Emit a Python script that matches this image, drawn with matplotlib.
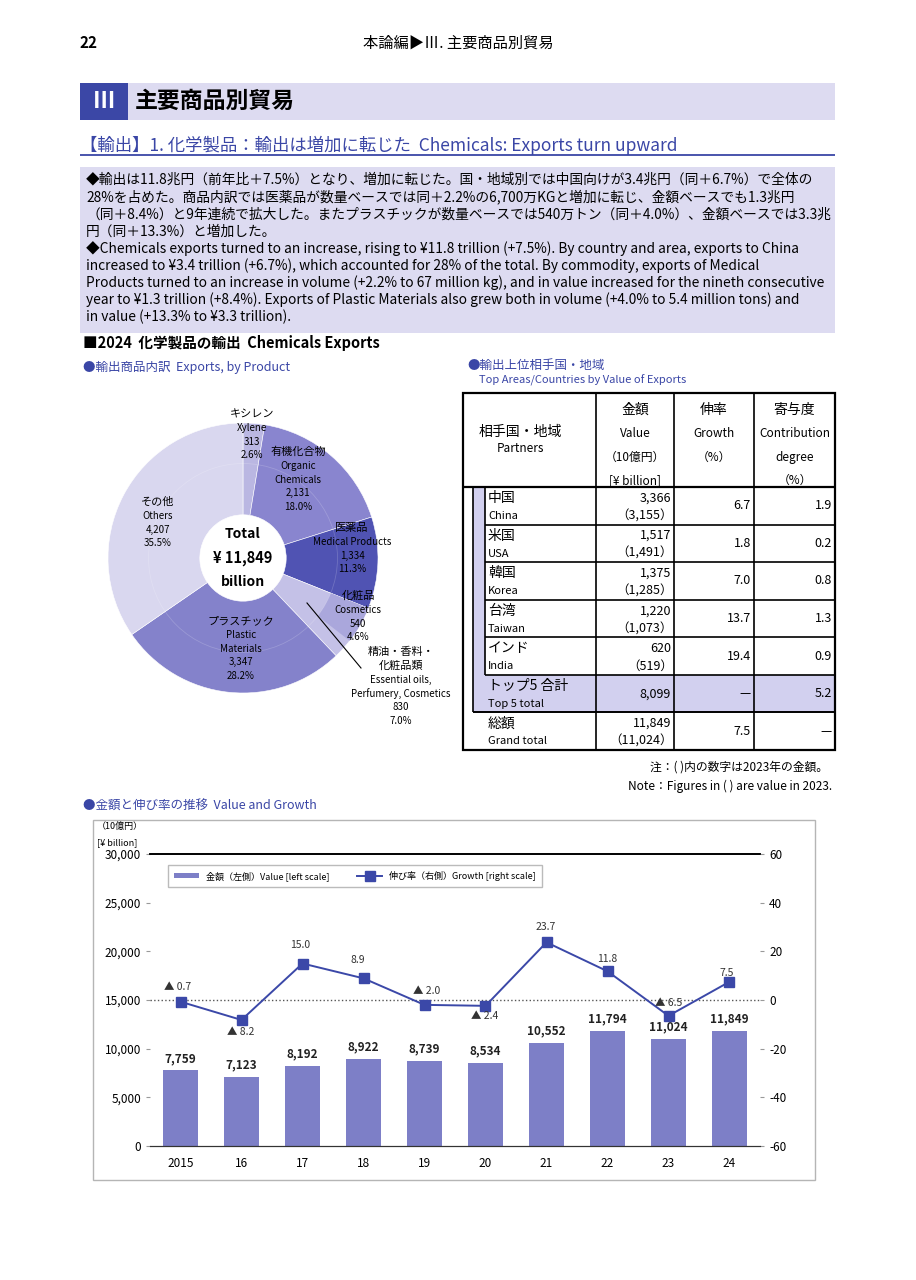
import numpy as np
import matplotlib.pyplot as plt
from matplotlib.patches import Rectangle, Wedge, Circle

plt.rcParams['font.family'] = ['Noto Sans CJK JP', 'DejaVu Sans']
plt.rcParams['axes.unicode_minus'] = False

W, H = 916, 1280
BLUE = '#3a46a6'
LAV = '#dddbf1'

# ---- data: export breakdown by product (10 billion yen) ----
prod_jp = ['キシレン', '有機化合物', '医薬品', '精油・香料・\n化粧品類', 'プラスチック', 'その他']
prod_en = ['Xylene', 'Organic\nChemicals', 'Medical Products', 'Essential oils,\nPerfumery, Cosmetics',
           'Plastic\nMaterials', 'Others']
prod_val = [313, 2131, 1334, 830, 3347, 4207]
prod_pct = [2.6, 18.0, 11.3, 7.0, 28.2, 35.5]
cosm_jp, cosm_en, cosm_val, cosm_pct = '化粧品', 'Cosmetics', 540, 4.6
total_val = 11849

# ---- data: top partners ----
partners_jp = ['中国', '米国', '韓国', '台湾', 'インド']
partners_en = ['China', 'USA', 'Korea', 'Taiwan', 'India']
value_2024 = [3366, 1517, 1375, 1220, 620]
value_2023 = [3155, 1491, 1285, 1073, 519]
growth_pct = [6.7, 1.8, 7.0, 13.7, 19.4]
contrib_pct = [1.9, 0.2, 0.8, 1.3, 0.9]
top5_total, top5_contrib = 8099, 5.2
grand_total, grand_prev, grand_growth = 11849, 11024, 7.5

# ---- data: value and growth ----
years = ['2015', '16', '17', '18', '19', '20', '21', '22', '23', '24']
values = [7759, 7123, 8192, 8922, 8739, 8534, 10552, 11794, 11024, 11849]
growth = [-0.7, -8.2, 15.0, 8.9, -2.0, -2.4, 23.7, 11.8, -6.5, 7.5]

jp_body = ['◆輸出は11.8兆円（前年比＋7.5%）となり、増加に転じた。国・地域別では中国向けが3.4兆円（同＋6.7%）で全体の',
           '28%を占めた。商品内訳では医薬品が数量ベースでは同＋2.2%の6,700万KGと増加に転じ、金額ベースでも1.3兆円',
           '（同＋8.4%）と9年連続で拡大した。またプラスチックが数量ベースでは540万トン（同＋4.0%）、金額ベースでは3.3兆',
           '円（同＋13.3%）と増加した。']
en_body = ['◆Chemicals exports turned to an increase, rising to ¥11.8 trillion (+7.5%). By country and area, exports to China',
           'increased to ¥3.4 trillion (+6.7%), which accounted for 28% of the total. By commodity, exports of Medical',
           'Products turned to an increase in volume (+2.2% to 67 million kg), and in value increased for the nineth consecutive',
           'year to ¥1.3 trillion (+8.4%). Exports of Plastic Materials also grew both in volume (+4.0% to 5.4 million tons) and',
           'in value (+13.3% to ¥3.3 trillion).']

fig = plt.figure(figsize=(W / 100, H / 100), dpi=100)
bg = fig.add_axes([0, 0, 1, 1])
bg.set_xlim(0, W)
bg.set_ylim(H, 0)
bg.axis('off')


def txt(x, y, s, size=9, ha='left', color='black', weight='normal', ax=None, **kw):
    ax = ax or bg
    return ax.text(x, y, s, fontsize=size, ha=ha, va='center', color=color, fontweight=weight, **kw)


def hline(x0, x1, y, lw=1.2, color='black'):
    bg.plot([x0, x1], [y, y], color=color, lw=lw, solid_capstyle='butt')


def vline(x, y0, y1, lw=1.2, color='black'):
    bg.plot([x, x], [y0, y1], color=color, lw=lw, solid_capstyle='butt')


# ---- page header ----
txt(80, 43, '22', 11, weight='bold')
txt(458, 43, '本論編▶Ⅲ. 主要商品別貿易', 11, ha='center')
bg.add_patch(Rectangle((80, 83), 755, 37, color=LAV, lw=0))
bg.add_patch(Rectangle((80, 83), 48, 37, color='#3b47a6', lw=0))
txt(104, 101, 'Ⅲ', 16, ha='center', color='white', weight='bold')
txt(135, 101, '主要商品別貿易', 16.5, weight='bold')
txt(80, 145, '【輸出】1. 化学製品：輸出は増加に転じた  Chemicals: Exports turn upward', 12.5, color=BLUE)
hline(80, 835, 155, lw=1.3, color=BLUE)

# ---- summary text ----
bg.add_patch(Rectangle((80, 167), 755, 166, color=LAV, lw=0))
for i, line in enumerate(jp_body):
    txt(86, 180 + i * 17.3, line, 9.9)
for i, line in enumerate(en_body):
    txt(86, 249 + i * 17, line, 9.9)

# ---- pie section ----
txt(83, 343, '■2024  化学製品の輸出  Chemicals Exports', 10.5, weight='bold')
txt(83, 367, '●輸出商品内訳  Exports, by Product', 9, color=BLUE)

cx, cy, R = 243, 558, 135
ax_pie = fig.add_axes([(cx - R) / W, (H - cy - R) / H, 2 * R / W, 2 * R / H])
pie_colors = ['#bab7e2', '#8985cf', '#5053b3', '#c4c1e7', '#8482cb', '#d9d7ef']
wedges, _ = ax_pie.pie(prod_val, colors=pie_colors, startangle=90, counterclock=False, radius=1,
                       wedgeprops=dict(width=0.68, edgecolor='white', linewidth=0.4))
ess = wedges[3]
t_hi = ess.theta2
t_lo = t_hi - cosm_val / prod_val[3] * (ess.theta2 - ess.theta1)
ax_pie.add_patch(Wedge((0, 0), 1, t_lo, t_hi, width=0.3, color='#aaa7dc', lw=0))
ax_pie.add_patch(Circle((0, 0), 0.7, fill=False, ec='white', lw=0.6, alpha=0.18))
ax_pie.set_xlim(-1, 1)
ax_pie.set_ylim(-1, 1)
ax_pie.axis('off')

# overlay for the pie labels
fg = fig.add_axes([0, 0, 1, 1])
fg.set_xlim(0, W)
fg.set_ylim(H, 0)
fg.axis('off')

txt(cx, 534, 'Total', 10, ha='center', weight='bold', ax=fg)
txt(cx, 558, '¥ 11,849', 10.5, ha='center', weight='bold', ax=fg)
txt(cx, 582, 'billion', 10, ha='center', weight='bold', ax=fg)

lab_xy = [(252, 414), (298, 452), (352, 528), (401, 652), (241, 621), (158, 502)]
for (lx, ly), jp, en, v, p in zip(lab_xy, prod_jp, prod_en, prod_val, prod_pct):
    lines = [(s, 8) for s in jp.split('\n')] + [(s, 7) for s in en.split('\n')]
    lines += [(f'{v:,}', 7), (f'{p:.1f}%', 7)]
    for k, (s, sz) in enumerate(lines):
        txt(lx, ly + k * 13.8, s, sz, ha='center', ax=fg)
for k, (s, sz) in enumerate([(cosm_jp, 8), (cosm_en, 7), (f'{cosm_val:,}', 7), (f'{cosm_pct:.1f}%', 7)]):
    txt(358, 596 + k * 13.8, s, sz, ha='center', ax=fg)
fg.plot([307, 361], [603, 668], color='black', lw=0.8)

# ---- table ----
txt(467, 365, '●輸出上位相手国・地域', 9, color=BLUE)
txt(479, 380, 'Top Areas/Countries by Value of Exports', 8, color=BLUE)

tx = [463, 596, 674, 754, 835]
top, hdr = 393, 487
row_h = (750 - hdr) / 7
rows = [hdr + i * row_h for i in range(8)]
SHADE = '#d2d0ef'
bg.add_patch(Rectangle((473, rows[5]), 835 - 473, row_h, color=SHADE, lw=0))
bg.add_patch(Rectangle((473, hdr), 12, rows[5] - hdr, color=SHADE, lw=0))

bg.add_patch(Rectangle((463, top), 835 - 463, 750 - top, fill=False, ec='black', lw=1.6))
hline(463, 835, hdr, lw=1.6)
for x in tx[1:4]:
    vline(x, top, 750)
for y in rows[1:6]:
    hline(485, 835, y)
hline(473, 835, rows[6], lw=1.4)
vline(473, hdr, rows[6])
vline(485, hdr, rows[5])

txt(520, 432, '相手国・地域', 10, ha='center')
txt(520, 449, 'Partners', 8.5, ha='center')
hdr_cols = [('金額', 'Value', '（10億円）', '[¥ billion]'), ('伸率', 'Growth', '（%）', ''),
            ('寄与度', 'Contribution', 'degree', '（%）')]
for (x0, x1), col in zip(zip(tx[1:4], tx[2:5]), hdr_cols):
    xc = (x0 + x1) / 2
    for k, s in enumerate(col):
        txt(xc, 410 + k * 23.5, s, 10 if k == 0 else 8.5, ha='center')

for i in range(5):
    y0 = rows[i]
    txt(488, y0 + 11, partners_jp[i], 10)
    txt(488, y0 + 29, partners_en[i], 8)
    txt(671, y0 + 11, f'{value_2024[i]:,}', 9, ha='right')
    txt(673, y0 + 29, f'（{value_2023[i]:,}）', 9, ha='right')
    txt(751, y0 + row_h / 2, f'{growth_pct[i]:.1f}', 9, ha='right')
    txt(832, y0 + row_h / 2, f'{contrib_pct[i]:.1f}', 9, ha='right')

y0 = rows[5]
txt(488, y0 + 11, 'トップ5 合計', 10)
txt(488, y0 + 29, 'Top 5 total', 8)
txt(671, y0 + row_h / 2, f'{top5_total:,}', 9, ha='right')
txt(751, y0 + row_h / 2, '—', 9, ha='right')
txt(832, y0 + row_h / 2, f'{top5_contrib:.1f}', 9, ha='right')

y0 = rows[6]
txt(488, y0 + 11, '総額', 10)
txt(488, y0 + 29, 'Grand total', 8)
txt(671, y0 + 11, f'{grand_total:,}', 9, ha='right')
txt(673, y0 + 29, f'（{grand_prev:,}）', 9, ha='right')
txt(751, y0 + row_h / 2, f'{grand_growth:.1f}', 9, ha='right')
txt(832, y0 + row_h / 2, '—', 9, ha='right')

txt(828, 767, '注：( )内の数字は2023年の金額。', 8.5, ha='right')
txt(832, 786, 'Note：Figures in ( ) are value in 2023.', 8.5, ha='right')

# ---- value and growth chart ----
txt(83, 806, '●金額と伸び率の推移  Value and Growth', 9, color=BLUE)
bg.add_patch(Rectangle((93, 820), 722, 360, fill=False, ec='#b5b5b5', lw=1))
txt(97, 826, '（10億円）', 6.5)
txt(97, 843, '[¥ billion]', 6.5)

ax = fig.add_axes([150 / W, (H - 1146) / H, 610 / W, 292 / H])
x = np.arange(len(years))
bars = ax.bar(x, values, width=0.56, color='#7d7fc7', zorder=2)
ax.set_xlim(-0.5, len(years) - 0.5)
ax.set_ylim(0, 30000)
ax.set_yticks(range(0, 30001, 5000))
ax.set_yticklabels([f'{v:,}' for v in range(0, 30001, 5000)])
ax.set_xticks(x)
ax.set_xticklabels(years)
for i, v in enumerate(values):
    ax.annotate(f'{v:,}', (i, v), xytext=(0, 4), textcoords='offset points', ha='center', va='bottom',
                fontsize=8.5, fontweight='bold', color='#222')

ax2 = ax.twinx()
line, = ax2.plot(x, growth, color='#3b48a8', marker='s', ms=7, lw=1.4, zorder=3)
ax2.axhline(0, color='#555', ls=':', lw=1, zorder=1)
ax2.set_ylim(-60, 60)
ax2.set_yticks(range(-60, 61, 20))
g_off = [(-3, 15), (-1, -12), (-2, 19), (-6, 18), (2, 14), (-1, -10), (-1, 15), (0, 12), (0, 13), (-3, 9)]
for i, (g, (dx, dy)) in enumerate(zip(growth, g_off)):
    s = f'▲ {abs(g):.1f}' if g < 0 else f'{g:.1f}'
    ax2.annotate(s, (i, g), xytext=(dx, dy), textcoords='offset pixels', ha='center', va='center',
                 fontsize=7.5, color='#333')

for a in (ax, ax2):
    a.spines['left'].set_visible(False)
    a.spines['right'].set_visible(False)
    a.spines['top'].set_color('black')
    a.spines['top'].set_linewidth(1.2)
    a.spines['bottom'].set_color('#333')
    a.tick_params(axis='y', length=3, color='#999', labelsize=8.5)
ax.tick_params(axis='x', length=0, labelsize=8.5, pad=8)
ax.set_facecolor('none')

ax2.legend([bars, line], ['金額（左側）Value [left scale]', '伸び率（右側）Growth [right scale]'],
           loc='upper left', bbox_to_anchor=(13 / 610, 1 - 6 / 292), ncol=2, fontsize=6.5,
           frameon=True, fancybox=False, edgecolor='#aaa', handlelength=2.8, columnspacing=3.0,
           borderpad=0.7, handleheight=0.5)

fig.savefig('out.png', dpi=100)
